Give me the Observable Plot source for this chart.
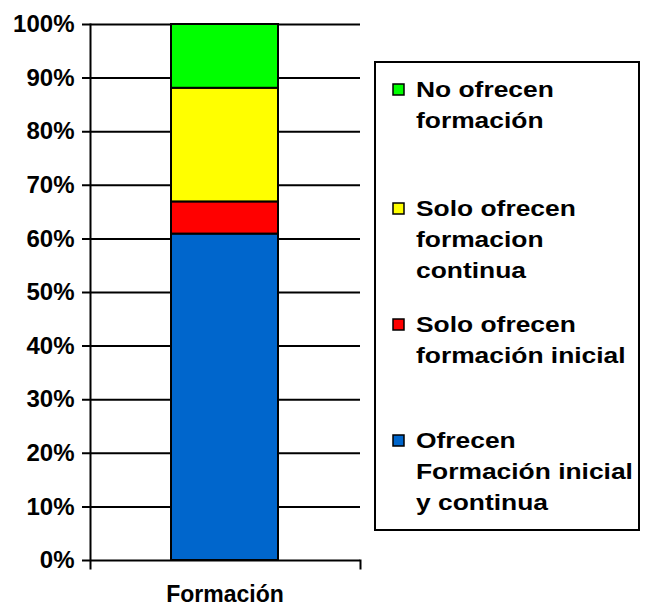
<!DOCTYPE html>
<html>
<head>
<meta charset="utf-8">
<script src="https://cdn.jsdelivr.net/npm/d3@7"></script>
<script src="https://cdn.jsdelivr.net/npm/@observablehq/plot@0.6"></script>
<style>
  html, body { margin: 0; padding: 0; background: white; }
  #chart { width: 645px; height: 606px; }
</style>
</head>
<body>
<div id="chart"></div>
<script>
// ---- data ----
const categories = ["Formación"];
const series = [
  "Ofrecen Formación inicial y continua",
  "Solo ofrecen formación inicial",
  "Solo ofrecen formacion continua",
  "No ofrecen formación"
];
const values = [60.9, 6.0, 21.2, 11.9];
const colors = ["#0066cc", "#ff0000", "#ffff00", "#00ff00"];
const yTicks = [0, 10, 20, 30, 40, 50, 60, 70, 80, 90, 100];
const legendLines = [
  ["Ofrecen", "Formación inicial", "y continua"],
  ["Solo ofrecen", "formación inicial"],
  ["Solo ofrecen", "formacion", "continua"],
  ["No ofrecen", "formación"]
];

const data = series.map((s, i) => ({category: categories[0], series: s, value: values[i]}));

const W = 645, H = 606;
const mL = 90, mR = 285, mT = 24, mB = 46;
const FONT = "Arial, 'Liberation Sans', Helvetica, sans-serif";

const chart = Plot.plot({
  width: W,
  height: H,
  marginLeft: mL,
  marginRight: mR,
  marginTop: mT,
  marginBottom: mB,
  x: {domain: categories, padding: 0.4286, axis: null},
  y: {domain: [0, 100], axis: null},
  color: {domain: series, range: colors},
  style: {fontFamily: FONT, background: "white", color: "black", overflow: "visible"},
  marks: [
    Plot.ruleY(yTicks, {stroke: "black", strokeWidth: 2, insetLeft: -8}),
    Plot.frame({anchor: "left", stroke: "black", strokeWidth: 2, insetBottom: -8}),
    Plot.frame({anchor: "right", stroke: "black", strokeWidth: 2, insetTop: H - mT - mB, insetBottom: -8}),
    Plot.barY(data, Plot.stackY({
      x: "category",
      y: "value",
      fill: "series",
      order: series,
      stroke: "black",
      strokeWidth: 2
    })),
    Plot.axisY({
      ticks: yTicks,
      tickFormat: d => d + "%",
      tickSize: 0,
      tickPadding: 16,
      fontSize: 24,
      fontWeight: "bold",
      label: null
    }),
    Plot.axisX({
      tickSize: 0,
      tickPadding: 25,
      fontSize: 23,
      fontWeight: "bold",
      label: null
    })
  ]
});

document.getElementById("chart").appendChild(chart);

// ---- legend (boxed, to the right of the plot) ----
const svg = d3.select(chart);
const lg = svg.append("g")
  .attr("font-family", FONT)
  .attr("font-weight", "bold")
  .attr("text-anchor", "start");
lg.append("rect")
  .attr("x", 375).attr("y", 62).attr("width", 264).attr("height", 468)
  .attr("fill", "white").attr("stroke", "black").attr("stroke-width", 2);

const legendBaselines = [448, 332, 216, 97]; // first-line baselines per entry
const lineStep = 31;
const fontSize = 22;
const stretch = 1.2;

series.forEach((s, i) => {
  const b = legendBaselines[i];
  lg.append("rect")
    .attr("x", 393).attr("y", b - 13).attr("width", 11).attr("height", 11)
    .attr("fill", colors[i]).attr("stroke", "black").attr("stroke-width", 1.5);
  legendLines[i].forEach((line, k) => {
    lg.append("text")
      .attr("text-anchor", "start")
      .attr("transform", `translate(416,${b + k * lineStep}) scale(${stretch},1)`)
      .attr("font-size", fontSize)
      .attr("fill", "black")
      .text(line);
  });
});
</script>
</body>
</html>
